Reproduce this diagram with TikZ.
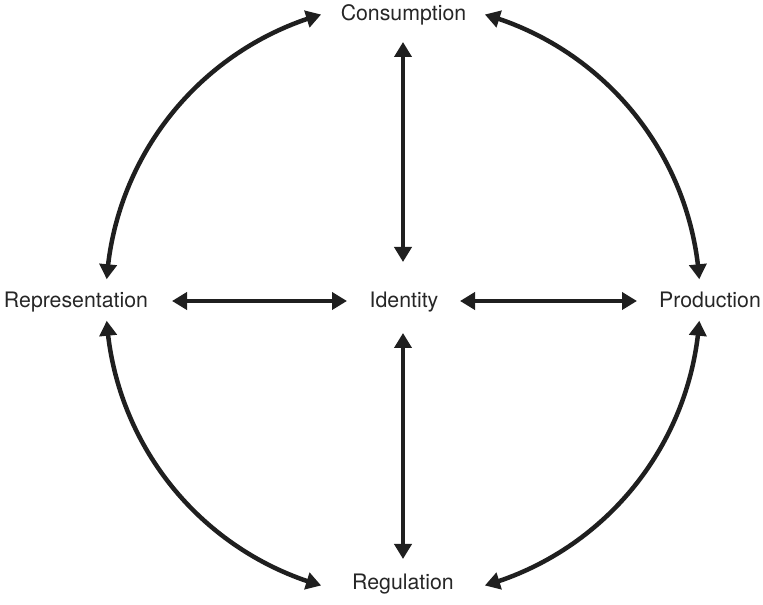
\documentclass[tikz,border=0pt]{standalone}
\usepackage{fontspec}
\setmainfont{TeX Gyre Heros}
\usetikzlibrary{arrows.meta,bending}
\begin{document}
\begin{tikzpicture}[x=1pt,y=1pt,
  lbl/.style={anchor=base,inner sep=0pt,font=\fontsize{21.3}{25}\selectfont,text=black!85},
  arr/.style={line width=4.5pt,draw=black!88,{Triangle[length=15pt,width=17pt]}-{Triangle[length=15pt,width=17pt]}}]
\useasboundingbox (0,0) rectangle (763,605);
% labels
\node[lbl] (cons) at (403.5,584) {Consumption};
\node[lbl] (rep)  at (76,297) {Representation};
\node[lbl] (id)   at (404,297) {Identity};
\node[lbl] (prod) at (710,297) {Production};
\node[lbl] (reg)  at (403,15) {Regulation};
% arrow ends
\coordinate (O) at (403,305);
\coordinate (vt1) at (403,563);
\coordinate (vt2) at (403,343);
\coordinate (vb1) at (403,272);
\coordinate (vb2) at (403,46);
\coordinate (hl1) at (172,304);
\coordinate (hl2) at (347,304);
\coordinate (hr1) at (460,304);
\coordinate (hr2) at (637,304);
% straight connectors
\draw[arr] (vt1) -- (vt2);
\draw[arr] (vb1) -- (vb2);
\draw[arr] (hl1) -- (hl2);
\draw[arr] (hr1) -- (hr2);
% circular connectors
\draw[arr] (O) ++(106:297) arc[start angle=106,end angle=176,radius=297];
\draw[arr] (O) ++(74:297) arc[start angle=74,end angle=4,radius=297];
\draw[arr] (O) ++(-74:297) arc[start angle=-74,end angle=-4,radius=297];
\draw[arr] (O) ++(-106:297) arc[start angle=-106,end angle=-176,radius=297];
\end{tikzpicture}
\end{document}
